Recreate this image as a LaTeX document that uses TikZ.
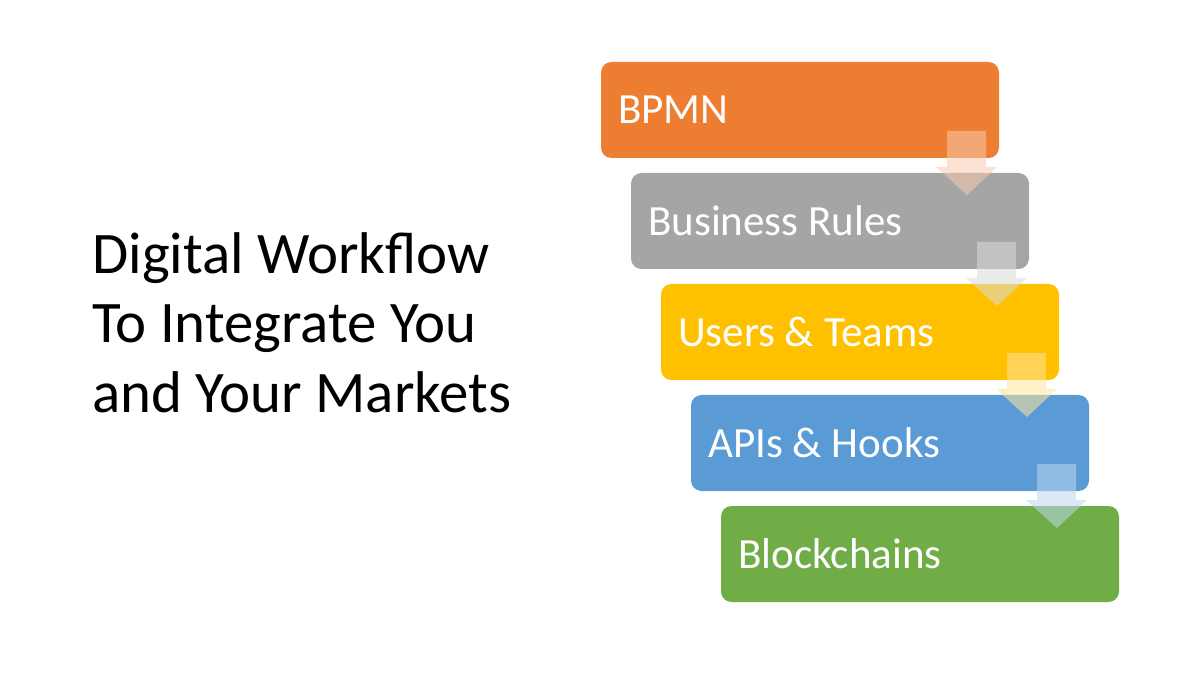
\documentclass[tikz,border=0pt]{standalone}
\usepackage{fontspec}
\setmainfont{Carlito}
\begin{document}
\begin{tikzpicture}[x=0.02cm,y=-0.02cm,
  stepbox/.style={rounded corners=6pt},
  lbl/.style={anchor=west,text=white,font=\fontsize{24.5}{28}\selectfont},
  arr/.style={fill opacity=0.55}]
\useasboundingbox (0,0) rectangle (1200,675);
\definecolor{c1}{HTML}{ED7D31}\definecolor{c2}{HTML}{A5A5A5}\definecolor{c3}{HTML}{FFC000}
\definecolor{c4}{HTML}{5B9BD5}\definecolor{c5}{HTML}{70AD47}
\node[anchor=north west,align=left,inner sep=0pt,font=\fontsize{33.5}{39.5}\selectfont] (title) at (92,232) {Digital Workflow\\To Integrate You\\and Your Markets};
\foreach \i/\c/\t in {0/c1/BPMN,1/c2/Business Rules,2/c3/Users \& Teams,3/c4/APIs \& Hooks,4/c5/Blockchains}{
  \fill[\c,stepbox] (601+30*\i,62+111*\i) rectangle ++(398,96);
  \node[lbl] (b\i) at (612+30*\i,110+111*\i) {\t};
}
\foreach \i/\c in {0/c1,1/c2,2/c3,3/c4}{
  \fill[arr,\c!40] (947+30*\i,131+111*\i) -- ++(39,0) -- ++(0,36) -- ++(11,0) -- ++(-30,28) -- ++(-31,-28) -- ++(11,0) -- cycle;
}
\end{tikzpicture}
\end{document}
